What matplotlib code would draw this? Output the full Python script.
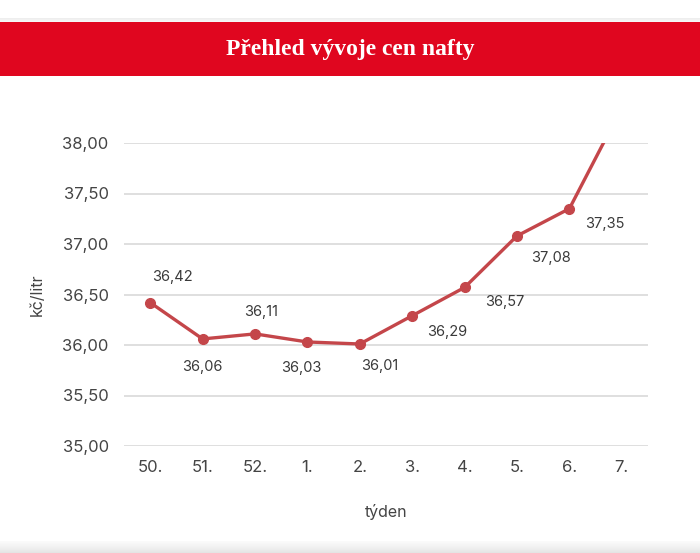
import numpy as np
import matplotlib.pyplot as plt
from matplotlib.patches import Rectangle

# weekly diesel prices (Kč/litr)
weeks = ['50.', '51.', '52.', '1.', '2.', '3.', '4.', '5.', '6.', '7.']
prices = [36.42, 36.06, 36.11, 36.03, 36.01, 36.29, 36.57, 37.08, 37.35, 38.35]
labelled = 9  # last week has no value label / marker visible (off the top)

# label offsets in pixels (dx, dy) relative to each point, screen coords
offsets = [(22, 26), (0, -28), (6, 22), (-6, -26), (20, -22),
           (35, -16), (40, -15), (34, -22), (35, -15)]

plt.rcParams['font.family'] = ['Inter', 'DejaVu Sans']

fig = plt.figure(figsize=(7.0, 5.53), dpi=100)
W, H = 700, 553

# faint shadows above the banner and at the bottom
grad = np.linspace(0, 1, 50).reshape(-1, 1)
ax_sh = fig.add_axes([0, 0, 1, 12 / H])
ax_sh.imshow(grad, aspect='auto', cmap='Greys', vmin=-0.2, vmax=6, extent=[0, 1, 0, 1])
ax_sh.axis('off')
ax_sh2 = fig.add_axes([0, 1 - 24 / H, 1, 6 / H])
ax_sh2.imshow(grad[::-1], aspect='auto', cmap='Greys', vmin=-0.2, vmax=8, extent=[0, 1, 0, 1])
ax_sh2.axis('off')

# red banner with title
fig.patches.append(Rectangle((0, 1 - 76 / H), 1, 54 / H, transform=fig.transFigure,
                             facecolor='#E0061F', edgecolor='none', zorder=5))
fig.text(0.5, 1 - 49 / H, 'Přehled vývoje cen nafty', ha='center', va='center',
         color='white', fontsize=17, fontweight='bold', family='Liberation Serif', zorder=6)

ax = fig.add_axes([124 / W, 1 - 446 / H, 524 / W, 303 / H])
x = np.arange(len(weeks))
line_color = '#C4464A'
ax.plot(x, prices, color=line_color, lw=2.4, zorder=3, solid_capstyle='round')
ax.plot(x[:labelled], prices[:labelled], 'o', color=line_color, ms=7, zorder=4)

for i in range(labelled):
    dx, dy = offsets[i]
    ax.annotate(f'{prices[i]:.2f}'.replace('.', ','), (x[i], prices[i]),
                xytext=(dx * 0.72, dy * 0.72), textcoords='offset points',
                ha='center', va='center', fontsize=10.5, color='#3a3a3a')

ax.set_xlim(-0.5, len(weeks) - 0.5)
ax.set_ylim(35, 38)
yt = np.arange(35, 38.01, 0.5)
ax.set_yticks(yt)
ax.set_yticklabels([f'{v:.2f}'.replace('.', ',') for v in yt])
ax.set_xticks(x)
ax.set_xticklabels(weeks)
ax.grid(axis='y', color='#D9D9D9', lw=1.2)
ax.set_axisbelow(True)
for s in ax.spines.values():
    s.set_visible(False)
ax.tick_params(length=0, labelsize=12, labelcolor='#444444')
ax.tick_params(axis='y', pad=11)
ax.tick_params(axis='x', pad=10)
ax.set_xlabel('týden', fontsize=11.5, color='#444444', labelpad=21)
ax.set_ylabel('kč/litr', fontsize=11.5, color='#444444', labelpad=13)

fig.savefig('out.png', dpi=100)
